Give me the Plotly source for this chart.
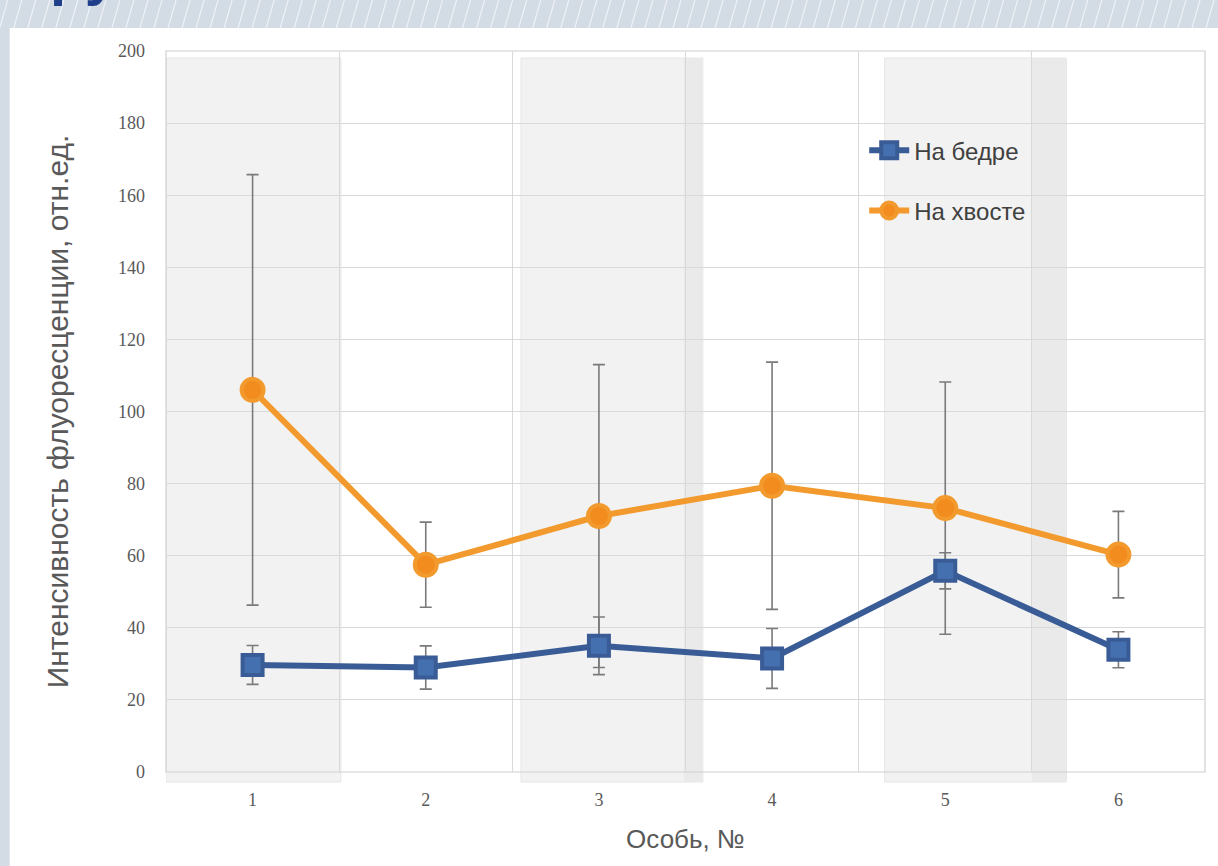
import plotly.graph_objects as go

# Individuals and fluorescence means with their error margins
individuals = [1, 2, 3, 4, 5, 6]
thigh_mean = [29.7, 29.0, 35.0, 31.5, 55.8, 33.9]
thigh_err = [5.4, 6.0, 8.0, 8.3, 5.0, 5.0]
tail_mean = [106.0, 57.5, 71.0, 79.4, 73.2, 60.3]
tail_err = [59.7, 11.8, 42.0, 34.3, 35.0, 12.0]

y_ticks = [0, 20, 40, 60, 80, 100, 120, 140, 160, 180, 200]

BLUE = "#3a5c96"
ORANGE = "#f39a2e"
GRID = "#d9d9d9"
TXT = "#595959"

fig = go.Figure()

# error bars first so the series markers sit on top of them
for means, errs in ((tail_mean, tail_err), (thigh_mean, thigh_err)):
    fig.add_trace(go.Scatter(
        x=individuals, y=means, mode="markers",
        marker=dict(size=1, color="rgba(0,0,0,0)"),
        error_y=dict(type="data", array=errs, visible=True,
                     color="#7a7a7a", thickness=1.6, width=6),
        showlegend=False, hoverinfo="skip",
    ))

fig.add_trace(go.Scatter(
    x=individuals, y=thigh_mean, name="На бедре",
    mode="lines+markers", legendgroup="a",
    line=dict(color=BLUE, width=6),
    marker=dict(symbol="square", size=20, color="#4470b0",
                line=dict(color=BLUE, width=4)),
))
fig.add_trace(go.Scatter(
    x=individuals, y=tail_mean, name="На хвосте",
    mode="lines+markers", legendgroup="b",
    line=dict(color=ORANGE, width=6),
    marker=dict(symbol="circle", size=22, color="#f28c1e",
                line=dict(color=ORANGE, width=4)),
))

shapes = []
# header strip and left strip of the slide
shapes.append(dict(type="rect", xref="paper", yref="paper",
                   x0=-0.2, x1=1.1, y0=1 + 23 / 721, y1=1.2,
                   fillcolor="#d3dbe4", line=dict(width=0), layer="below"))
shapes.append(dict(type="rect", xref="paper", yref="paper",
                   x0=-0.2, x1=-156 / 1037, y0=-0.2, y1=1.2,
                   fillcolor="#d3dbe4", line=dict(width=0), layer="below"))
# light diagonal hatching on the header strip
for k in range(0, 1260, 14):
    shapes.append(dict(type="line", xref="paper", yref="paper",
                       x0=(k - 166) / 1037, x1=(k - 166 + 8) / 1037,
                       y0=1 + 23 / 721, y1=1 + 51 / 721,
                       line=dict(color="#eef2f6", width=1.2), layer="below"))

# shaded column panels behind individuals 1, 3 and 5
panels = [(0.5, 1.51, None), (2.55, 3.6, 3.49), (4.65, 5.7, 5.5)]
for a, b, dark in panels:
    shapes.append(dict(type="rect", xref="x", yref="paper",
                       x0=a, x1=b, y0=-10 / 721, y1=714 / 721,
                       fillcolor="#f2f2f2", line=dict(color="#e6e6e6", width=1),
                       layer="below"))
    if dark is not None:
        shapes.append(dict(type="rect", xref="x", yref="paper",
                           x0=dark, x1=b, y0=-10 / 721, y1=714 / 721,
                           fillcolor="#eaeaea", line=dict(width=0),
                           layer="below"))

# plot frame
shapes.append(dict(type="rect", xref="paper", yref="paper",
                   x0=0, x1=1, y0=0, y1=1,
                   line=dict(color="#d0d0d0", width=1.2), layer="below"))

fig.update_layout(
    width=1218, height=866,
    margin=dict(l=166, r=13, t=51, b=94),
    paper_bgcolor="white", plot_bgcolor="rgba(0,0,0,0)",
    shapes=shapes,
    showlegend=True,
    legend=dict(x=0.672, y=0.893, xanchor="left", yanchor="top",
                bgcolor="rgba(0,0,0,0)", tracegroupgap=26,
                font=dict(family="Liberation Sans, Arial", size=24, color="#404040"),
                itemwidth=40),
    xaxis=dict(
        range=[0.5, 6.5], tickvals=individuals,
        ticktext=[str(i) for i in individuals],
        showgrid=False, zeroline=False, showline=False, ticks="",
        ticklabelstandoff=15,
        tickfont=dict(family="Liberation Serif, Times New Roman", size=18, color=TXT),
        minor=dict(tick0=0.5, dtick=1, showgrid=True, gridcolor=GRID, gridwidth=1.2),
        title=dict(text="Особь, №",
                   font=dict(family="Liberation Sans, Arial", size=26, color=TXT),
                   standoff=20),
    ),
    yaxis=dict(
        range=[0, 200], tickvals=y_ticks,
        showgrid=True, gridcolor=GRID, gridwidth=1.2,
        zeroline=False, showline=False, ticks="",
        ticklabelstandoff=20,
        tickfont=dict(family="Liberation Serif, Times New Roman", size=18, color=TXT),
        title=dict(text="Интенсивность флуоресценции, отн.ед.",
                   font=dict(family="Liberation Sans, Arial", size=30, color=TXT),
                   standoff=40),
    ),
    annotations=[dict(
        text="<b>ру</b>", xref="paper", yref="paper",
        x=-118 / 1037, y=1 + 43 / 721, xanchor="left", yanchor="bottom",
        showarrow=False,
        font=dict(family="Liberation Sans, Arial", size=58, color="#1f3f8a"),
    )],
)

fig.write_html("out.html")
